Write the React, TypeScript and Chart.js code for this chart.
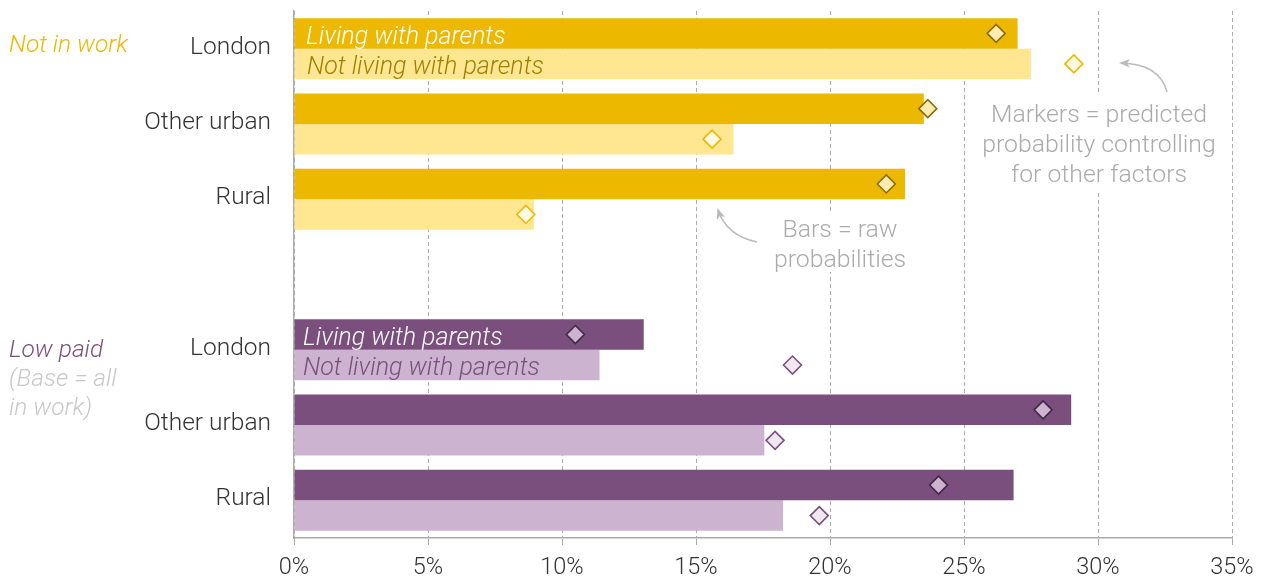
import React, { useEffect, useRef } from "react";
import { Chart, registerables } from "chart.js";

Chart.register(...registerables);

const categories = ["London", "Other urban", "Rural", "", "London", "Other urban", "Rural"];
const livingBars = [27.0, 23.5, 22.8, null, 13.05, 29.0, 26.85];
const notLivingBars = [27.5, 16.4, 8.95, null, 11.4, 17.55, 18.25];
const livingMarkers = [26.2, 23.65, 22.1, null, 10.5, 27.95, 24.05];
const notLivingMarkers = [29.1, 15.6, 8.65, null, 18.6, 17.95, 19.6];
const groupOf = [0, 0, 0, -1, 1, 1, 1];
const xTickValues = [0, 5, 10, 15, 20, 25, 30, 35];

const FONT = "Roboto";
const GOLD = "#EDB800";
const GOLD_LIGHT = "#FFE690";
const PURPLE = "#7A4F7D";
const PURPLE_LIGHT = "#CCB3D0";

const barDark = [GOLD, PURPLE];
const barLight = [GOLD_LIGHT, PURPLE_LIGHT];
const mkLivFill = ["#FFECB0", "#CCB3D0"];
const mkLivStroke = ["#8C6C00", "#3E2A42"];
const mkNotFill = ["#FFF8E3", "#F1E7F2"];
const mkNotStroke = [GOLD, PURPLE];

const CAT_PCT = 0.81;

function pick(arr: string[]) {
  return groupOf.map((g) => (g < 0 ? "rgba(0,0,0,0)" : arr[g]));
}

function markerPoints(vals: (number | null)[], off: number) {
  const pts: { x: number; y: number }[] = [];
  vals.forEach((v, i) => {
    if (v !== null) pts.push({ x: v, y: i + off });
  });
  return pts;
}
function markerColors(arr: string[]) {
  const out: string[] = [];
  livingMarkers.forEach((v, i) => {
    if (v !== null) out.push(arr[groupOf[i]]);
  });
  return out;
}

function arrow(ctx: CanvasRenderingContext2D, sx: number, sy: number, cx: number, cy: number, ex: number, ey: number) {
  ctx.save();
  ctx.strokeStyle = "#BBBBBB";
  ctx.fillStyle = "#BBBBBB";
  ctx.lineWidth = 1.6;
  ctx.beginPath();
  ctx.moveTo(sx, sy);
  ctx.quadraticCurveTo(cx, cy, ex, ey);
  ctx.stroke();
  const ang = Math.atan2(ey - cy, ex - cx);
  const L = 10;
  ctx.beginPath();
  ctx.moveTo(ex + Math.cos(ang) * 2, ey + Math.sin(ang) * 2);
  ctx.lineTo(ex - Math.cos(ang - 0.45) * L, ey - Math.sin(ang - 0.45) * L);
  ctx.lineTo(ex - Math.cos(ang) * 6, ey - Math.sin(ang) * 6);
  ctx.lineTo(ex - Math.cos(ang + 0.45) * L, ey - Math.sin(ang + 0.45) * L);
  ctx.closePath();
  ctx.fill();
  ctx.restore();
}

const markersNote = ["Markers = predicted", "probability controlling", "for other factors"];
const barsNote = ["Bars = raw", "probabilities"];

const overlay = {
  id: "overlay",
  beforeDatasetsDraw(chart: any) {
    const ctx = chart.ctx as CanvasRenderingContext2D;
    ctx.save();
    ctx.fillStyle = "#ffffff";
    ctx.fillRect(980, 95, 240, 98);
    ctx.fillRect(774, 212, 134, 60);
    ctx.restore();
  },
  afterDatasetsDraw(chart: any) {
    const ctx = chart.ctx as CanvasRenderingContext2D;
    const area = chart.chartArea;
    const m0 = chart.getDatasetMeta(0).data;
    const m1 = chart.getDatasetMeta(1).data;
    ctx.save();
    ctx.textBaseline = "middle";
    ctx.textAlign = "left";
    ctx.font = `italic 300 25px ${FONT}`;
    // in-bar labels
    ctx.fillStyle = "#ffffff";
    ctx.fillText("Living with parents", area.left + 12, m0[0].y + 4);
    ctx.fillStyle = "#A08000";
    ctx.fillText("Not living with parents", area.left + 13, m1[0].y + 4);
    ctx.fillStyle = "#ffffff";
    ctx.fillText("Living with parents", area.left + 9, m0[4].y + 4);
    ctx.fillStyle = PURPLE;
    ctx.fillText("Not living with parents", area.left + 9, m1[4].y + 4);

    // group labels
    ctx.font = `italic 300 24.5px ${FONT}`;
    ctx.fillStyle = GOLD;
    ctx.fillText("Not in work", 9, 46);
    ctx.fillStyle = PURPLE;
    ctx.fillText("Low paid", 9, 351);
    ctx.fillStyle = "#C8C8C8";
    ctx.fillText("(Base = all", 9, 380);
    ctx.fillText("in work)", 9, 409);

    // notes
    ctx.font = `300 24.8px ${FONT}`;
    ctx.fillStyle = "#ABABAB";
    ctx.textAlign = "center";
    markersNote.forEach((t, i) => ctx.fillText(t, 1099, 116 + i * 30));
    barsNote.forEach((t, i) => ctx.fillText(t, 840, 231 + i * 30));
    ctx.restore();

    arrow(ctx, 1167, 92, 1160, 64, 1121, 63);
    arrow(ctx, 757, 242, 727, 236, 718, 210);
  },
};

export default function App() {
  const ref = useRef<HTMLCanvasElement | null>(null);
  useEffect(() => {
    if (!ref.current) return;
    const off = CAT_PCT / 4;
    const markerBase = {
      type: "scatter",
      xAxisID: "x",
      yAxisID: "yM",
      indexAxis: "x",
      pointStyle: "rectRot",
      pointRadius: 9,
      pointBorderWidth: 1.6,
      showLine: false,
      order: 1,
    };
    const barBase = {
      type: "bar",
      indexAxis: "y",
      xAxisID: "x",
      yAxisID: "y",
      barPercentage: 1,
      categoryPercentage: CAT_PCT,
      order: 2,
    };
    const chart = new Chart(ref.current, {
      type: "bar",
      data: {
        labels: categories,
        datasets: [
          {
            ...barBase,
            label: "Living with parents",
            data: livingBars,
            backgroundColor: pick(barDark),
          } as any,
          {
            ...barBase,
            label: "Not living with parents",
            data: notLivingBars,
            backgroundColor: pick(barLight),
          } as any,
          {
            ...markerBase,
            label: "Predicted (living)",
            data: markerPoints(livingMarkers, -off),
            pointBackgroundColor: markerColors(mkLivFill),
            pointBorderColor: markerColors(mkLivStroke),
          } as any,
          {
            ...markerBase,
            label: "Predicted (not living)",
            data: markerPoints(notLivingMarkers, off),
            pointBackgroundColor: markerColors(mkNotFill),
            pointBorderColor: markerColors(mkNotStroke),
          } as any,
        ],
      },
      options: {
        responsive: false,
        animation: false,
        events: [],
        layout: { padding: { top: 11, right: 31, left: 0, bottom: 0 } },
        plugins: { legend: { display: false }, tooltip: { enabled: false } },
        scales: {
          x: {
            type: "linear",
            position: "bottom",
            min: 0,
            max: 35,
            offset: false,
            afterBuildTicks: (s: any) => {
              s.ticks = xTickValues.map((v) => ({ value: v }));
            },
            afterFit: (s: any) => {
              s.height = 40;
              s.paddingLeft = 0;
              s.paddingRight = 0;
            },
            grid: {
              offset: false,
              color: "#ABABAB",
              lineWidth: 1,
              tickBorderDash: [],
              tickColor: "#ABABAB",
              tickLength: 7,
              drawTicks: true,
            } as any,
            border: { display: true, color: "#ABABAB", width: 1.5, dash: [4, 3] },
            ticks: {
              callback: (v: any) => `${v}%`,
              color: "#333333",
              font: { family: FONT, size: 23.5, weight: "300" },
              padding: 9,
              maxRotation: 0,
            },
          },
          y: {
            type: "category",
            position: "left",
            offset: true,
            afterFit: (s: any) => {
              s.width = 294;
              s.paddingTop = 0;
              s.paddingBottom = 0;
            },
            grid: { display: false, drawTicks: false, offset: true },
            border: { display: true, color: "#ABABAB", width: 1.5 },
            ticks: {
              color: "#333333",
              font: { family: FONT, size: 24.5, weight: "300" },
              padding: 23,
              labelOffset: -1,
            },
          },
          yM: {
            type: "linear",
            display: false,
            offset: false,
            grid: { offset: false },
            min: -0.5,
            max: 6.5,
            reverse: true,
            afterFit: (s: any) => {
              s.paddingTop = 0;
              s.paddingBottom = 0;
            },
          },
        },
      } as any,
      plugins: [overlay],
    });
    return () => chart.destroy();
  }, []);
  return (
    <div style={{ position: "fixed", left: 0, top: 0, width: 1263, height: 578, background: "#fff" }}>
      <canvas ref={ref} width={1263} height={578} />
    </div>
  );
}
